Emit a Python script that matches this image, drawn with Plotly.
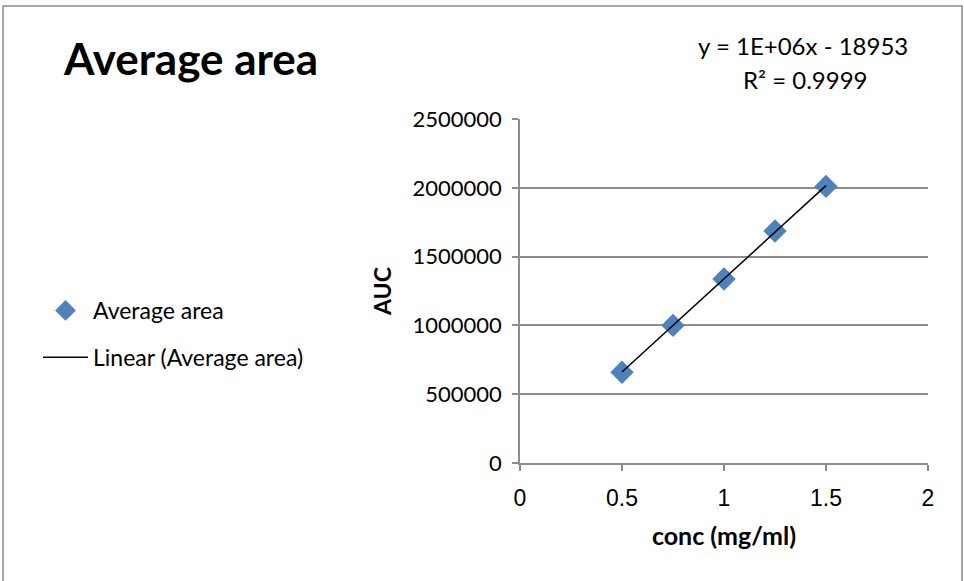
import numpy as np
import plotly.graph_objects as go

# data
conc = [0.5, 0.75, 1.0, 1.25, 1.5]
avg_area = [660000, 1000000, 1337000, 1686000, 2010000]
x_ticks = [0, 0.5, 1, 1.5, 2]
y_ticks = [0, 500000, 1000000, 1500000, 2000000, 2500000]
eq_text = "y = 1E+06x - 18953"
r2_text = "R² = 0.9999"

slope, intercept = np.polyfit(conc, avg_area, 1)
fit_x = [min(conc), max(conc)]
fit_y = [slope * v + intercept for v in fit_x]

FONT = "Lato, 'Open Sans', sans-serif"
XFONT = "Liberation Sans"
W, H = 964, 581
L, R, T, B = 520, 36, 119, 118
pw, ph = W - L - R, H - T - B

def px_x(p):
    return (p - L) / pw

def px_y(p):
    return (H - B - p) / ph

fig = go.Figure()
fig.add_trace(go.Scatter(
    x=conc, y=avg_area, mode="markers", name="Average area",
    marker=dict(symbol="diamond", size=18, color="#4F81BD"),
    legendgroup="a",
))
fig.add_trace(go.Scatter(
    x=fit_x, y=fit_y, mode="lines", name="Linear (Average area)",
    line=dict(color="black", width=1.5),
    legendgroup="b",
))

axis_common = dict(
    showline=True, linecolor="#8c8c8c", linewidth=1.5,
    ticks="outside", ticklen=6, tickcolor="#8c8c8c", tickwidth=1.5,
    zeroline=False,
)
fig.update_xaxes(
    range=[0, 2], tickvals=x_ticks, showgrid=False,
    tickfont=dict(family=XFONT, size=23, color="black"),
    title=dict(text="<b>conc (mg/ml)</b>", font=dict(family=FONT, size=25, color="black"), standoff=17),
    ticklabelstandoff=8,
    **axis_common,
)
fig.update_yaxes(
    range=[0, 2500000], tickvals=y_ticks, tickformat="d",
    tickfont=dict(family=FONT, size=22, color="black"),
    showgrid=True, gridcolor="#8c8c8c", gridwidth=1.5,
    title=dict(text="<b>AUC</b>", font=dict(family=FONT, size=23, color="black"), standoff=14),
    ticklabelstandoff=6,
    **axis_common,
)

fig.update_layout(
    width=W, height=H,
    margin=dict(l=L, r=R, t=T, b=B),
    paper_bgcolor="white", plot_bgcolor="white",
    font=dict(family=FONT, color="black"),
    showlegend=True,
    legend=dict(
        x=px_x(38), y=px_y(289), xanchor="left", yanchor="top",
        font=dict(family=FONT, size=23, color="black"),
        traceorder="grouped", tracegroupgap=14,
        itemwidth=45, bgcolor="rgba(0,0,0,0)",
    ),
    annotations=[
        dict(text="<b>Average area</b>", xref="paper", yref="paper",
             x=px_x(61), y=px_y(58), xanchor="left", yanchor="middle",
             showarrow=False, font=dict(family=FONT, size=44, color="black")),
        dict(text=eq_text, xref="paper", yref="paper",
             x=px_x(803), y=px_y(45), xanchor="center", yanchor="middle",
             showarrow=False, font=dict(family=FONT, size=24, color="black")),
        dict(text=r2_text, xref="paper", yref="paper",
             x=px_x(805), y=px_y(79), xanchor="center", yanchor="middle",
             showarrow=False, font=dict(family=FONT, size=24, color="black")),
    ],
    shapes=[
        dict(type="rect", xref="paper", yref="paper",
             x0=px_x(3), x1=px_x(962), y0=px_y(590), y1=px_y(6),
             line=dict(color="#8c8c8c", width=1.5), fillcolor="rgba(0,0,0,0)", layer="below"),
    ],
)

fig.write_html("out.html", config={"displayModeBar": False},
               post_script="document.body.style.margin='0';")
